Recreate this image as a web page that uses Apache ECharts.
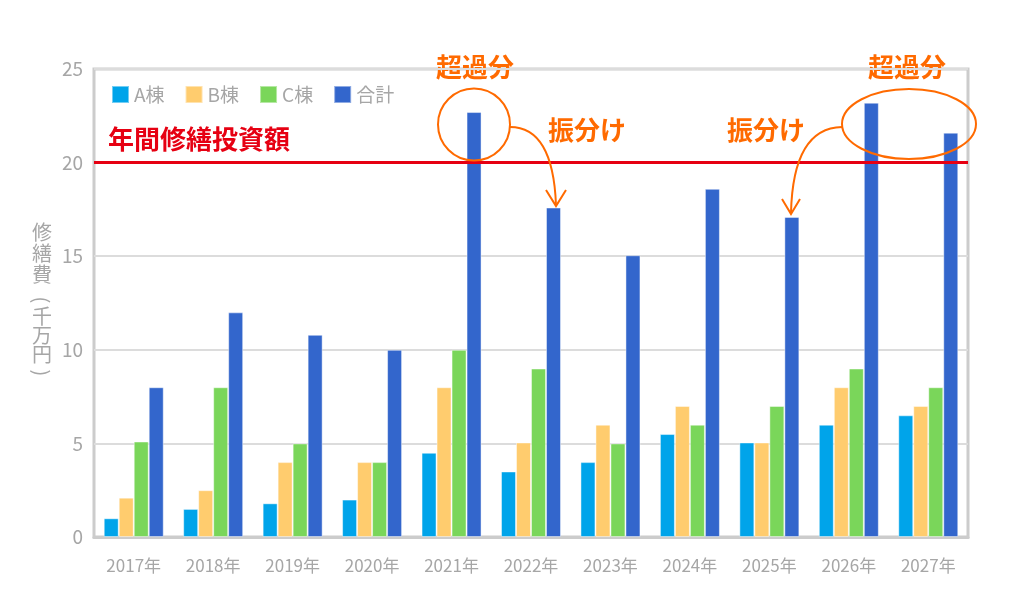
<!DOCTYPE html>
<html>
<head>
<meta charset="utf-8">
<script src="https://cdn.jsdelivr.net/npm/echarts@6/dist/echarts.min.js"></script>
<style>
  html, body { margin: 0; padding: 0; background: #fff; }
  #chart { width: 1022px; height: 614px; }
</style>
</head>
<body>
<div id="chart"></div>
<script>
  // 年ごとの修繕費（千万円）
  const years = ['2017年', '2018年', '2019年', '2020年', '2021年', '2022年', '2023年', '2024年', '2025年', '2026年', '2027年'];
  const buildingA = [1.0, 1.5, 1.8, 2.0, 4.5, 3.5, 4.0, 5.5, 5.05, 6.0, 6.5];
  const buildingB = [2.1, 2.5, 4.0, 4.0, 8.0, 5.05, 6.0, 7.0, 5.05, 8.0, 7.0];
  const buildingC = [5.1, 8.0, 5.0, 4.0, 10.0, 9.0, 5.0, 6.0, 7.0, 9.0, 8.0];
  const total = [8.0, 12.0, 10.8, 10.0, 22.7, 17.6, 15.05, 18.6, 17.1, 23.2, 21.6];
  const budget = 20;

  const font = '"Noto Sans CJK JP", "Noto Sans", sans-serif';
  const grey = '#a6a6a6';
  const orange = '#ff6a00';

  let myChart = echarts.init(document.getElementById('chart'));

  const barStyle = (color) => ({
    color: color,
    borderColor: 'rgba(255,255,255,0.45)',
    borderWidth: 1
  });

  const noteText = (left, top, text) => ({
    type: 'text', left: left, top: top,
    style: { text: text, fill: orange, fontSize: 26, fontWeight: 'bold', fontFamily: font }
  });
  const orangeLine = { fill: 'none', stroke: orange, lineWidth: 2 };

  let option = {
    animation: false,
    textStyle: { fontFamily: font },
    grid: {
      left: 94, right: 54, top: 69, bottom: 77,
      show: true,
      borderColor: '#cccccc',
      borderWidth: 3
    },
    legend: {
      left: 106, top: 80,
      itemWidth: 17, itemHeight: 17,
      itemGap: 20,
      icon: 'rect',
      textStyle: { color: grey, fontSize: 19, fontFamily: font },
      data: ['A棟', 'B棟', 'C棟', '合計']
    },
    xAxis: {
      type: 'category',
      data: years,
      axisLine: { lineStyle: { color: '#cccccc', width: 3 } },
      axisTick: { inside: true, length: 10, lineStyle: { color: '#d0d0d0', width: 2 } },
      axisLabel: { color: grey, fontSize: 17, margin: 20, fontFamily: font }
    },
    yAxis: {
      type: 'value',
      min: 0, max: 25, interval: 5,
      axisLine: { show: false },
      axisTick: { show: false },
      axisLabel: { color: grey, fontSize: 19, margin: 11, fontFamily: font },
      splitLine: { lineStyle: { color: '#dcdcdc', width: 2 } }
    },
    series: [
      { name: 'A棟', type: 'bar', data: buildingA, barWidth: 15, barGap: '0%', itemStyle: barStyle('#00a4ea') },
      { name: 'B棟', type: 'bar', data: buildingB, barWidth: 15, barGap: '0%', itemStyle: barStyle('#ffcc6e') },
      { name: 'C棟', type: 'bar', data: buildingC, barWidth: 15, barGap: '0%', itemStyle: barStyle('#7ad65a') },
      {
        name: '合計', type: 'bar', data: total, barWidth: 15, barGap: '0%', itemStyle: barStyle('#3366cc'),
        markLine: {
          silent: true,
          symbol: ['none', 'none'],
          lineStyle: { color: '#e60012', width: 3, type: 'solid' },
          label: { show: false },
          data: [{ yAxis: budget }]
        }
      }
    ],
    graphic: [
      // 縦書きの軸名
      { type: 'text', left: 32, top: 222, style: { text: '修\n繕\n費', fill: grey, fontSize: 20, lineHeight: 21, fontFamily: font } },
      { type: 'text', x: 42, y: 300, rotation: -Math.PI / 2, style: { text: '(', fill: grey, fontSize: 20, align: 'center', verticalAlign: 'middle', fontFamily: font } },
      { type: 'text', left: 32, top: 306, style: { text: '千\n万\n円', fill: grey, fontSize: 20, lineHeight: 19, fontFamily: font } },
      { type: 'text', x: 42, y: 373, rotation: -Math.PI / 2, style: { text: ')', fill: grey, fontSize: 20, align: 'center', verticalAlign: 'middle', fontFamily: font } },
      {
        type: 'text', left: 108, top: 126,
        style: { text: '年間修繕投資額', fill: '#e60012', fontSize: 26, fontWeight: 'bold', fontFamily: font }
      },
      noteText(436, 54, '超過分'),
      noteText(868, 54, '超過分'),
      noteText(548, 117, '振分け'),
      noteText(727, 117, '振分け'),
      // 超過分の囲み
      { type: 'circle', shape: { cx: 474, cy: 124.5, r: 36 }, style: orangeLine, z: 10 },
      { type: 'ellipse', shape: { cx: 909, cy: 124, rx: 67, ry: 35 }, style: orangeLine, z: 10 },
      // 矢印
      { type: 'bezierCurve', shape: { x1: 510, y1: 127, cpx1: 553, cpy1: 127, x2: 556, y2: 205 }, style: orangeLine, z: 10 },
      { type: 'polyline', shape: { points: [[546, 190], [556, 206], [566, 190]] }, style: orangeLine, z: 10 },
      { type: 'bezierCurve', shape: { x1: 842, y1: 127, cpx1: 793, cpy1: 128, x2: 791, y2: 213 }, style: orangeLine, z: 10 },
      { type: 'polyline', shape: { points: [[782, 199], [791, 214], [800, 199]] }, style: orangeLine, z: 10 }
    ]
  };

  myChart.setOption(option);
</script>
</body>
</html>
